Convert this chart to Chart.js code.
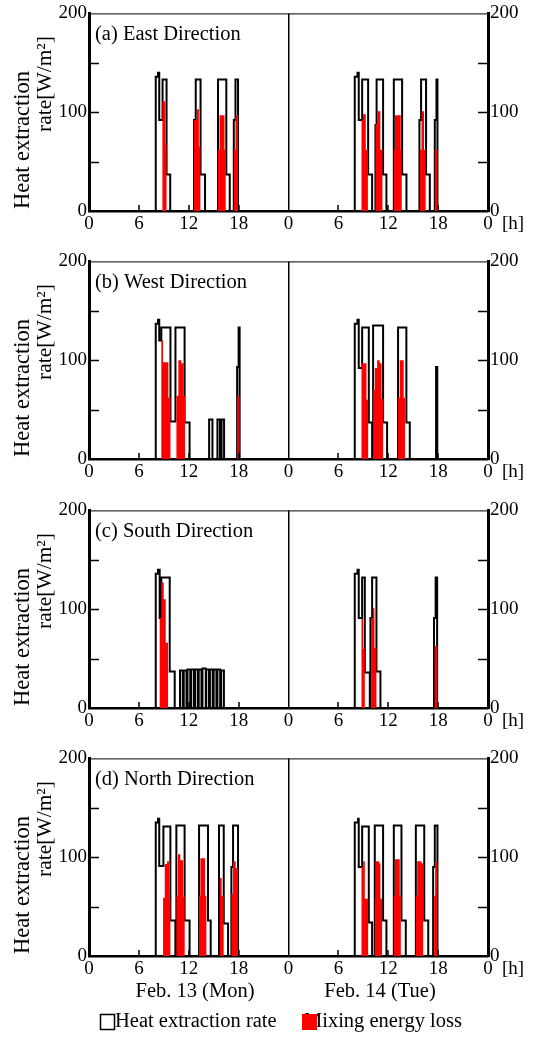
<!DOCTYPE html>
<html><head><meta charset="utf-8">
<script src="https://cdn.jsdelivr.net/npm/chart.js@4.4.0/dist/chart.umd.min.js"></script>
<style>
html,body{margin:0;padding:0;background:#fff;}
#wrap{position:relative;width:537px;height:1039px;overflow:hidden;background:#fff;}
canvas{position:absolute;left:0;}
</style></head><body><div id="wrap">
<canvas id="c0" width="537" height="248" style="top:0px;width:537px;height:248px"></canvas>
<canvas id="c1" width="537" height="248" style="top:248px;width:537px;height:248px"></canvas>
<canvas id="c2" width="537" height="248" style="top:497px;width:537px;height:248px"></canvas>
<canvas id="c3" width="537" height="294" style="top:745px;width:537px;height:294px"></canvas>
</div>
<script>
// ---------- labels ----------
const hours = [0, 6, 12, 18, 24, 30, 36, 42, 48];
const hourLabels = ['0', '6', '12', '18', '0', '6', '12', '18', '0'];
const unitLabel = '[h]';
const yTicks = [0, 50, 100, 150, 200];
const yLabels = ['0', '', '100', '', '200'];
const yTitle = ['Heat extraction', 'rate[W/m\u00B2]'];
const panelTitles = ['(a) East Direction', '(b) West Direction', '(c) South Direction', '(d) North Direction'];
const dayLabels = ['Feb. 13 (Mon)', 'Feb. 14 (Tue)'];
const legendLabels = ['Heat extraction rate', 'Mixing energy loss'];

// ---------- data (time [h from Feb.13 0:00], value held until next time) ----------
// (a) East
const eastHeatT = [0, 8.03, 8.3, 8.45, 8.85, 9.33, 9.77, 12.63, 12.84, 13.42, 13.96, 15.52, 16.52, 16.93, 17.42, 17.62, 17.93,
  31.97, 32.3, 32.45, 32.86, 33.58, 34.06, 34.46, 34.6, 35.38, 35.78, 36.67, 37.67, 38.19, 39.75, 39.95, 40.55, 41.0, 41.6, 41.8, 41.92, 48];
const eastHeatV = [0, 136, 140, 92, 133, 37, 0, 92, 133, 37, 0, 133, 37, 0, 92, 133, 0,
  136, 140, 92, 133, 37, 0, 87, 133, 37, 0, 133, 37, 0, 92, 133, 37, 0, 92, 133, 0, 0];
const eastLossT = [0, 8.83, 9.19, 9.33, 12.63, 12.98, 13.22, 13.4, 15.52, 15.7, 16.3, 16.45, 17.42, 17.62, 17.93,
  32.78, 32.95, 33.3, 33.55, 34.46, 34.7, 35.05, 35.3, 36.67, 36.8, 37.5, 37.62, 39.8, 40.0, 40.3, 40.5, 41.6, 41.9, 48];
const eastLossV = [0, 111, 67, 0, 92, 103, 65, 0, 62, 97, 62, 0, 62, 97, 0,
  92, 98, 62, 0, 88, 101, 62, 0, 62, 97, 62, 0, 62, 101, 62, 0, 62, 0, 0];

// (b) West
const westHeatT = [0, 8.03, 8.3, 8.45, 8.7, 9.8, 10.4, 11.5, 12.1, 14.45, 14.85, 15.45, 15.75, 15.95, 16.25, 17.82, 18.0, 18.12,
  31.97, 32.3, 32.45, 32.86, 33.66, 34.06, 34.18, 35.38, 35.86, 37.18, 38.18, 38.59, 41.75, 41.9, 48];
const westHeatV = [0, 137, 141, 120, 133, 38, 133, 37, 0, 40, 0, 40, 0, 40, 0, 93, 133, 0,
  137, 141, 92, 133, 37, 0, 135, 37, 0, 133, 37, 0, 93, 0, 0];
const westLossT = [0, 8.7, 8.9, 9.55, 9.8, 10.52, 10.75, 11.11, 11.4, 11.55, 17.82, 18.1,
  32.78, 33.38, 33.58, 34.18, 34.38, 34.66, 34.98, 35.2, 35.38, 37.18, 37.38, 37.86, 38.02, 48];
const westLossV = [0, 120, 98, 62, 0, 64, 100, 97, 64, 0, 64, 0,
  97, 60, 0, 70, 92, 100, 97, 61, 0, 62, 100, 62, 0, 0];

// (c) South
const southHeatT = [0, 8.03, 8.3, 8.5, 8.7, 9.71, 10.31,
  10.95, 11.28, 11.40, 11.73, 11.85, 12.18, 12.30, 12.63, 12.75, 13.08, 13.20, 13.53, 13.65, 14.05, 14.10, 14.43,
  14.55, 14.88, 15.00, 15.33, 15.45, 15.78, 15.90, 16.23,
  31.97, 32.3, 32.45, 32.86, 33.18, 33.78, 33.86, 34.06, 34.58, 35.06, 41.5, 41.7, 41.88, 48];
const southHeatV = [0, 136, 140, 91, 132, 37, 0,
  38, 0, 38, 0, 39, 0, 39, 0, 39, 0, 39, 0, 40, 0, 39, 0,
  39, 0, 39, 0, 39, 0, 38, 0,
  136, 140, 91, 132, 36, 0, 91, 132, 37, 0, 91, 132, 0, 0];
const southLossT = [0, 8.5, 8.7, 8.99, 9.23, 9.51,
  32.78, 32.98, 33.18, 33.94, 34.14, 34.34, 34.58, 41.58, 41.88, 48];
const southLossV = [0, 91, 127, 110, 66, 0,
  90, 60, 0, 91, 101, 61, 0, 63, 0, 0];

// (d) North
const northHeatT = [0, 8.03, 8.3, 8.45, 8.95, 9.79, 10.39, 10.51, 11.5, 12.1, 13.24, 14.32, 14.64, 15.64, 16.21, 16.73, 17.13, 17.33, 17.93,
  31.97, 32.37, 32.45, 32.86, 33.66, 34.06, 34.38, 35.38, 35.78, 36.67, 37.59, 38.11, 39.32, 40.33, 40.81, 41.4, 41.6, 41.92, 48];
const northHeatV = [0, 135, 139, 91, 131, 36, 0, 132, 36, 0, 132, 36, 0, 132, 33, 0, 90, 132, 0,
  135, 139, 90, 131, 34, 0, 132, 36, 0, 132, 36, 0, 132, 36, 0, 90, 132, 0, 0];
const northLossT = [0, 8.91, 9.11, 9.39, 9.63, 9.79, 10.51, 10.71, 10.99, 11.31, 11.51, 13.24, 13.4, 13.96, 14.12, 15.72, 15.96, 16.2, 17.13, 17.33, 17.65, 17.93,
  32.78, 32.98, 33.18, 33.58, 34.38, 34.5, 34.9, 35.06, 35.26, 36.67, 36.79, 37.39, 37.51, 39.32, 39.48, 40.0, 40.2, 41.52, 41.64, 41.88, 48];
const northLossV = [0, 59, 93, 96, 57, 0, 61, 103, 97, 60, 0, 61, 99, 61, 0, 79, 61, 0, 63, 96, 89, 0,
  90, 96, 58, 0, 58, 96, 94, 58, 0, 61, 98, 61, 0, 61, 96, 94, 0, 61, 96, 0, 0];

// ---------- drawing ----------
const FF = "'Liberation Serif', 'Times New Roman', serif";
const pts = (t, v) => t.map((x, i) => ({ x: x, y: v[i] }));

function decoPlugin(idx, isLast) {
  return {
    id: 'deco' + idx,
    afterDraw(chart) {
      const ctx = chart.ctx, a = chart.chartArea;
      const xs = chart.scales.x, ys = chart.scales.y;
      ctx.save();
      ctx.strokeStyle = '#000';
      ctx.lineWidth = 1;
      ctx.beginPath(); ctx.moveTo(a.left, a.top + 0.5); ctx.lineTo(a.right, a.top + 0.5); ctx.stroke();
      ctx.lineWidth = 1.5;
      hours.forEach(h => {
        if (h % 24 !== 0) {
          const px = Math.round(xs.getPixelForValue(h));
          ctx.beginPath(); ctx.moveTo(px, a.bottom); ctx.lineTo(px, a.bottom - 6); ctx.stroke();
        }
      });
      yTicks.forEach(v => {
        if (v > 0 && v < 200) {
          const py = Math.round(ys.getPixelForValue(v)) + 0.5;
          ctx.beginPath();
          ctx.moveTo(a.left, py); ctx.lineTo(a.left + 10, py);
          ctx.moveTo(a.right - 10, py); ctx.lineTo(a.right, py);
          ctx.stroke();
        }
      });
      ctx.fillStyle = '#000';
      ctx.textAlign = 'left'; ctx.textBaseline = 'middle';
      ctx.font = '20.5px ' + FF;
      ctx.fillText(panelTitles[idx], 95, 35);
      ctx.font = '19px ' + FF;
      ctx.fillText(unitLabel, 502, a.bottom + 13);
      ctx.font = '22.5px ' + FF;
      ctx.save(); ctx.translate(23, 209); ctx.rotate(-Math.PI / 2); ctx.fillText(yTitle[0], 0, 0); ctx.restore();
      ctx.font = '21.5px ' + FF;
      ctx.save(); ctx.translate(45, 132); ctx.rotate(-Math.PI / 2); ctx.fillText(yTitle[1], 0, 0); ctx.restore();
      if (isLast) {
        ctx.font = '20.5px ' + FF;
        ctx.textAlign = 'center';
        ctx.fillText(dayLabels[0], 195, 247);
        ctx.fillText(dayLabels[1], 380, 247);
        ctx.textAlign = 'left';
        ctx.fillText(legendLabels[0], 115, 277);
        ctx.lineWidth = 1.5;
        ctx.strokeStyle = '#000';
        ctx.strokeRect(100.5, 269.5, 14, 15);
        ctx.fillText(legendLabels[1], 304, 277);
        ctx.fillStyle = '#ff0000';
        ctx.fillRect(302, 269, 15, 16);
      }
      ctx.restore();
    }
  };
}

function makeChart(id, idx, heatT, heatV, lossT, lossV, isLast) {
  const canvas = document.getElementById(id);
  const xAxisH = canvas.height - 211;
  new Chart(canvas, {
    type: 'line',
    data: {
      datasets: [
        { label: legendLabels[1], data: pts(lossT, lossV), stepped: 'before', fill: 'origin',
          backgroundColor: '#ff0000', borderColor: 'rgba(0,0,0,0)', borderWidth: 0, pointRadius: 0 },
        { label: legendLabels[0], data: pts(heatT, heatV), stepped: 'before', fill: false,
          borderColor: '#000', borderWidth: 2, pointRadius: 0, borderCapStyle: 'butt', borderJoinStyle: 'miter' }
      ]
    },
    options: {
      responsive: false, animation: false, devicePixelRatio: 1,
      layout: { padding: { top: 12, left: 0, right: 0, bottom: 0 }, autoPadding: false },
      plugins: { legend: { display: false }, tooltip: { enabled: false } },
      scales: {
        x: {
          type: 'linear', min: 0, max: 48, position: 'bottom',
          afterBuildTicks: s => { s.ticks = hours.map(v => ({ value: v })); },
          afterFit: s => { s.height = xAxisH; },
          ticks: { color: '#000', font: { family: FF, size: 19 }, padding: 2, maxRotation: 0, autoSkip: false,
            callback: v => hourLabels[hours.indexOf(v)] },
          grid: { drawOnChartArea: true, drawTicks: false, lineWidth: 1.5,
            color: c => (c.tick && c.tick.value === 24) ? '#000' : 'rgba(0,0,0,0)' },
          border: { display: true, color: '#000', width: 2.5 }
        },
        y: {
          type: 'linear', min: 0, max: 200, position: 'left',
          afterBuildTicks: s => { s.ticks = yTicks.map(v => ({ value: v })); },
          afterFit: s => { s.width = 89; },
          ticks: { color: '#000', font: { family: FF, size: 19 }, padding: 2,
            callback: v => yLabels[yTicks.indexOf(v)] },
          grid: { display: false, drawTicks: false },
          border: { display: true, color: '#000', width: 3 }
        },
        y2: {
          type: 'linear', min: 0, max: 200, position: 'right',
          afterBuildTicks: s => { s.ticks = yTicks.map(v => ({ value: v })); },
          afterFit: s => { s.width = 49; },
          ticks: { color: '#000', font: { family: FF, size: 19 }, padding: 2,
            callback: v => yLabels[yTicks.indexOf(v)] },
          grid: { display: false, drawTicks: false },
          border: { display: true, color: '#000', width: 3 }
        }
      }
    },
    plugins: [decoPlugin(idx, isLast)]
  });
}

makeChart('c0', 0, eastHeatT, eastHeatV, eastLossT, eastLossV, false);
makeChart('c1', 1, westHeatT, westHeatV, westLossT, westLossV, false);
makeChart('c2', 2, southHeatT, southHeatV, southLossT, southLossV, false);
makeChart('c3', 3, northHeatT, northHeatV, northLossT, northLossV, true);
</script>
</body></html>
